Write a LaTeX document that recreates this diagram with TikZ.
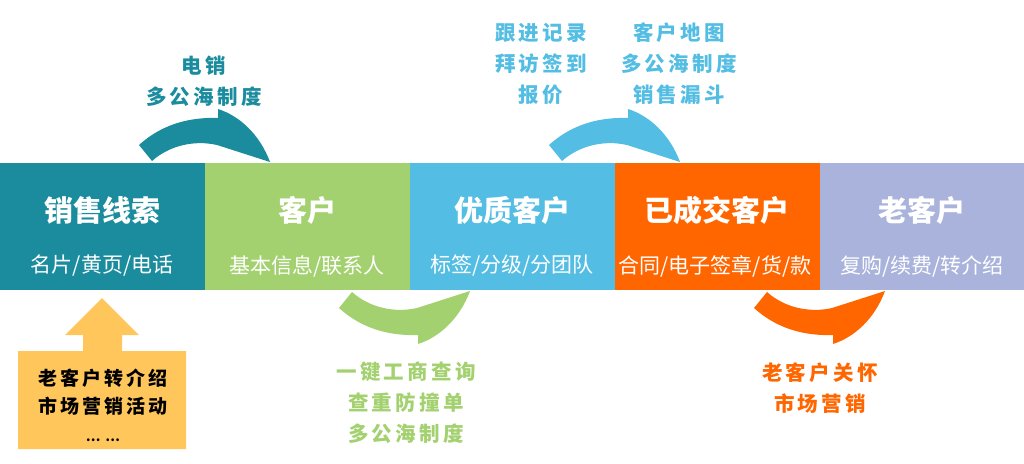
\documentclass[tikz,border=0pt]{standalone}
\usepackage{fontspec}
\setmainfont{Noto Sans CJK SC}
\definecolor{cteal}{HTML}{1A8C9E}
\definecolor{cgreen}{HTML}{A3D16F}
\definecolor{cblue}{HTML}{53BDE3}
\definecolor{corange}{HTML}{FF6600}
\definecolor{clav}{HTML}{A9B3DB}
\definecolor{cyel}{HTML}{FFC65C}
\tikzset{
  band/.style={fill=#1, draw=none, minimum width=205pt, minimum height=127pt, anchor=north west, inner sep=0pt},
  btitle/.style={text=white, font=\fontsize{29}{30}\selectfont\bfseries, inner sep=0pt},
  bsub/.style={text=white, font=\fontsize{21}{22}\selectfont, inner sep=0pt},
  note/.style={text=#1, align=center, inner sep=0pt, font=\fontsize{20.5}{31}\selectfont\bfseries\addfontfeatures{LetterSpace=16}},
  pics/bend/.style={code={
    \fill[#1] (139,145) .. controls (162,124) and (190,117) .. (218,118)
      -- (218,109) .. controls (240,116) and (260,135) .. (270,162)
      -- (217,145) .. controls (195,140) and (170,145) .. (152,161) -- cycle;
  }}
}
\begin{document}
\begin{tikzpicture}[x=1pt,y=-1pt]
\useasboundingbox (0,0) rectangle (1024,463);
% bands
\node[band=cteal] (b1) at (0,163) {};
\node[band=cgreen] (b2) at (205,163) {};
\node[band=cblue] (b3) at (410,163) {};
\node[band=corange] (b4) at (615,163) {};
\node[band=clav, minimum width=204pt] (b5) at (820,163) {};
% titles
\node[btitle] (t1) at (102,210) {销售线索};
\node[btitle] (t2) at (307,210) {客户};
\node[btitle] (t3) at (512,210) {优质客户};
\node[btitle] (t4) at (717,210) {已成交客户};
\node[btitle] (t5) at (922,210) {老客户};
\node[bsub] (s1) at (102,266) {名片/黄页/电话};
\node[bsub] (s2) at (307,266) {基本信息/联系人};
\node[bsub] (s3) at (512,266) {标签/分级/分团队};
\node[bsub] (s4) at (715,266) {合同/电子签章/货/款};
\node[bsub] (s5) at (922,266) {复购/续费/转介绍};
% curved arrows
\pic {bend=cteal};
\pic[shift={(410,0)}] {bend=cblue};
\pic[shift={(200,453)}, yscale=-1] {bend=cgreen};
\pic[shift={(615,453)}, yscale=-1] {bend=corange};
% notes
\node[note=cteal] (n1) at (204,81) {电销\\多公海制度};
\node[note=cblue] (n2) at (541,64) {跟进记录\\拜访签到\\报价};
\node[note=cblue] (n3) at (679,64) {客户地图\\多公海制度\\销售漏斗};
\node[note=cgreen] (n4) at (406,403) {一键工商查询\\查重防撞单\\多公海制度};
\node[note=corange] (n5) at (820,388) {老客户关怀\\市场营销};
% yellow source arrow
\fill[cyel] (18,351) -- (83,351) -- (83,335) -- (65,335) -- (102,298) -- (139,335)
  -- (122,335) -- (122,351) -- (186,351) -- (186,449) -- (18,449) -- cycle;
\node[align=center, inner sep=0pt, text=black,
  font=\fontsize{19}{28}\selectfont\bfseries\addfontfeatures{LetterSpace=15}] (y1) at (103,405)
  {老客户转介绍\\市场营销活动\\{\fontsize{13}{28}\selectfont … …}};
\end{tikzpicture}
\end{document}
